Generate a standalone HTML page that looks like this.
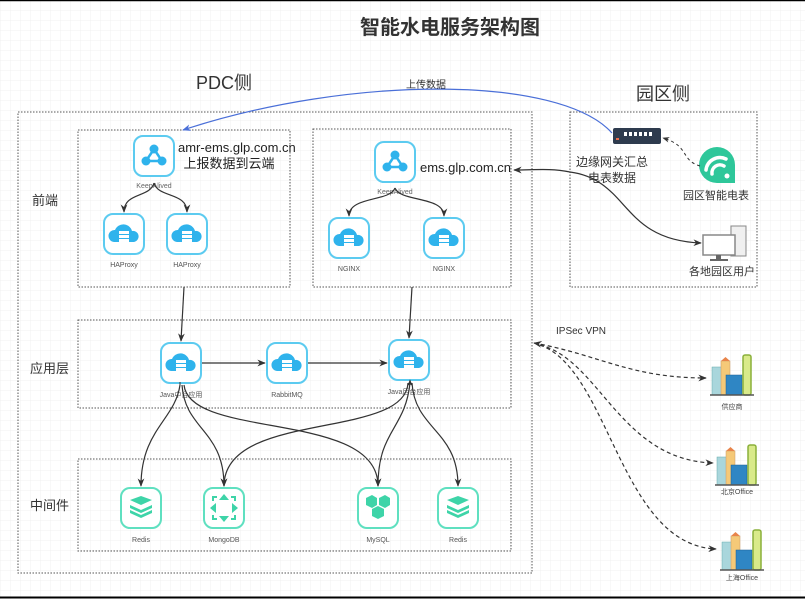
<!DOCTYPE html>
<html><head><meta charset="utf-8"><style>
html,body{margin:0;padding:0;background:#fff;}
svg{display:block;font-family:"Liberation Sans","Noto Sans CJK SC",sans-serif;}
</style></head><body>
<svg width="805" height="599" viewBox="0 0 805 599" xmlns="http://www.w3.org/2000/svg">
<defs>
<pattern id="g" width="10" height="10" patternUnits="userSpaceOnUse"><path d="M10 0H0V10" fill="none" stroke="#f0f0f0" stroke-width="1"/></pattern>
<marker id="a" viewBox="0 0 10 10" refX="9" refY="5" markerWidth="7" markerHeight="7" orient="auto-start-reverse"><path d="M0 1L10 5L0 9L3 5z" fill="#333"/></marker>
<marker id="ab" viewBox="0 0 10 10" refX="9" refY="5" markerWidth="7" markerHeight="7" orient="auto"><path d="M0 1L10 5L0 9L3 5z" fill="#4a6fd8"/></marker>
<g id="cloud">
<rect x="0" y="0" width="40" height="40" rx="9" fill="#fff" stroke="#5ccbf0" stroke-width="2"/>
<path d="M10 28a6 6 0 0 1 1-12a9 9 0 0 1 17 1a5.5 5.5 0 0 1 2 11z" fill="#2fb3ec"/>
<rect x="15" y="17" width="10" height="3" fill="#fff"/><rect x="15" y="21" width="10" height="3" fill="#fff"/><rect x="15" y="25" width="10" height="3" fill="#fff"/>
</g>
<g id="keep">
<rect x="0" y="0" width="40" height="40" rx="9" fill="#fff" stroke="#5ccbf0" stroke-width="2"/>
<path d="M20 13L12 25H28Z" fill="none" stroke="#2fb3ec" stroke-width="2.5"/>
<circle cx="20" cy="13" r="4.5" fill="#2fb3ec"/><circle cx="12" cy="25" r="4.5" fill="#2fb3ec"/><circle cx="28" cy="25" r="4.5" fill="#2fb3ec"/>
</g>
<g id="gbox"><rect x="0" y="0" width="40" height="40" rx="9" fill="#fff" stroke="#5fe0c0" stroke-width="2"/></g>
<g id="redis"><use href="#gbox"/>
<path d="M9 22l11 5 11-5v3l-11 5-11-5z M9 17l11 5 11-5v3l-11 5-11-5z M9 12l11-4 11 4-11 5z" fill="#3ed4a8"/></g>
<g id="bld">
<rect x="0" y="12" width="10" height="28" fill="#a9d6dc" stroke="#6aa" stroke-width=".5"/>
<rect x="9" y="6" width="9" height="34" fill="#f5c978" stroke="#c96" stroke-width=".5"/>
<path d="M9 6l4.5-4 4.5 4z" fill="#e8844a"/>
<rect x="14" y="20" width="16" height="20" fill="#2f86c4" stroke="#1b5f92" stroke-width=".5"/>
<rect x="31" y="0" width="8" height="40" rx="2" fill="#d9ea8a" stroke="#8ab03a" stroke-width="1.5"/>
<line x1="-2" y1="40" x2="42" y2="40" stroke="#555" stroke-width="1.5"/>
</g>
</defs>
<rect width="805" height="599" fill="url(#g)"/>
<line x1="0" y1="0.5" x2="805" y2="0.5" stroke="#000" stroke-width="1.5"/>
<line x1="0" y1="597.5" x2="805" y2="597.5" stroke="#000" stroke-width="2"/>

<text x="450" y="34" text-anchor="middle" font-size="20" font-weight="bold" fill="#333">智能水电服务架构图</text>
<text x="224" y="89" text-anchor="middle" font-size="18" fill="#333">PDC侧</text>
<text x="663" y="100" text-anchor="middle" font-size="18" fill="#333">园区侧</text>

<g fill="none" stroke="#555" stroke-width="1" stroke-dasharray="1.5 1.5">
<rect x="18" y="112" width="514" height="461"/>
<rect x="78" y="130" width="212" height="157"/>
<rect x="313" y="129" width="198" height="158"/>
<rect x="78" y="320" width="433" height="88"/>
<rect x="78" y="459" width="433" height="92"/>
<rect x="570" y="112" width="187" height="175"/>
</g>

<text x="32" y="205" font-size="13" fill="#333">前端</text>
<text x="30" y="373" font-size="13" fill="#333">应用层</text>
<text x="30" y="510" font-size="13" fill="#333">中间件</text>

<!-- front 1 -->
<use href="#keep" x="134" y="136"/>
<text x="154" y="188" text-anchor="middle" font-size="7" fill="#666">KeepAlived</text>
<text x="178" y="152" font-size="13" fill="#222">amr-ems.glp.com.cn</text>
<text x="229" y="168" text-anchor="middle" font-size="13" fill="#222">上报数据到云端</text>
<use href="#cloud" x="104" y="214"/><use href="#cloud" x="167" y="214"/>
<text x="124" y="267" text-anchor="middle" font-size="7" fill="#555">HAProxy</text>
<text x="187" y="267" text-anchor="middle" font-size="7" fill="#555">HAProxy</text>
<g fill="none" stroke="#333" stroke-width="1.2" marker-end="url(#a)">
<path d="M154 183C150 198 124 192 124 212"/><path d="M154 183C158 198 187 192 187 212"/>
</g>

<!-- front 2 -->
<use href="#keep" x="375" y="142"/>
<text x="395" y="194" text-anchor="middle" font-size="7" fill="#666">KeepAlived</text>
<text x="420" y="172" font-size="13" fill="#222">ems.glp.com.cn</text>
<use href="#cloud" x="329" y="218"/><use href="#cloud" x="424" y="218"/>
<text x="349" y="271" text-anchor="middle" font-size="7" fill="#555">NGINX</text>
<text x="444" y="271" text-anchor="middle" font-size="7" fill="#555">NGINX</text>
<g fill="none" stroke="#333" stroke-width="1.2" marker-end="url(#a)">
<path d="M395 188C390 202 349 196 349 216"/><path d="M395 188C400 202 444 196 444 216"/>
</g>

<!-- app -->
<use href="#cloud" x="161" y="343"/><use href="#cloud" x="267" y="343"/><use href="#cloud" x="389" y="340"/>
<text x="181" y="397" text-anchor="middle" font-size="7" fill="#555">Java中台应用</text>
<text x="287" y="397" text-anchor="middle" font-size="7" fill="#555">RabbitMQ</text>
<text x="409" y="394" text-anchor="middle" font-size="7" fill="#555">Java后台应用</text>
<g fill="none" stroke="#333" stroke-width="1.2" marker-end="url(#a)">
<path d="M184 287L181 341"/><path d="M412 287L409 338"/>
<path d="M202 363H265"/><path d="M308 363H387"/>
<path d="M180 385C175 420 141 430 141 486"/>
<path d="M182 385C185 430 224 430 224 486"/>
<path d="M184 385C190 440 378 410 378 486"/>
<path d="M408 383C405 440 224 410 224 486"/>
<path d="M410 383C405 430 378 430 378 486"/>
<path d="M412 383C415 430 458 430 458 486"/>
</g>
<path d="M180 385L180 382M410 383L410 380" stroke="#333" marker-end="url(#a)"/>

<!-- middleware -->
<use href="#redis" x="121" y="488"/>
<use href="#gbox" x="204" y="488"/>
<g fill="#3ed4a8"><path d="M224 494l5 6h-10z M224 522l5-6h-10z M210 508l6-5v10z M238 508l-6-5v10z"/>
<path d="M212 496h5v2h-3v3h-2z M236 496h-5v2h3v3h2z M212 520h5v-2h-3v-3h-2z M236 520h-5v-2h3v-3h2z"/></g>
<use href="#gbox" x="358" y="488"/>
<g fill="#3ed4a8"><polygon points="366,498 372,495 377,498 377,505 372,508 366,505"/><polygon points="379,498 385,495 390,498 390,505 385,508 379,505"/><polygon points="372,509 378,506 384,509 384,516 378,519 372,516"/></g>
<use href="#redis" x="438" y="488"/>
<text x="141" y="542" text-anchor="middle" font-size="7" fill="#555">Redis</text>
<text x="224" y="542" text-anchor="middle" font-size="7" fill="#555">MongoDB</text>
<text x="378" y="542" text-anchor="middle" font-size="7" fill="#555">MySQL</text>
<text x="458" y="542" text-anchor="middle" font-size="7" fill="#555">Redis</text>

<!-- campus -->
<rect x="613" y="128" width="48" height="16" rx="2" fill="#2e3b4e"/>
<g fill="#fff"><rect x="624" y="132" width="3" height="4"/><rect x="629" y="132" width="3" height="4"/><rect x="634" y="132" width="3" height="4"/><rect x="639" y="132" width="3" height="4"/><rect x="644" y="132" width="3" height="4"/><rect x="649" y="132" width="3" height="4"/></g>
<rect x="616" y="138" width="3" height="2" fill="#e86a4a"/>
<text x="612" y="166" text-anchor="middle" font-size="12" fill="#333">边缘网关汇总</text>
<text x="612" y="182" text-anchor="middle" font-size="12" fill="#333">电表数据</text>
<path d="M735 183H717a18 18 0 1 1 18-18z" fill="#2ec79a"/>
<g fill="none" stroke="#fff" stroke-width="3.5" stroke-linecap="round"><path d="M706 170a14 14 0 0 1 20-11"/><path d="M712 174a8 8 0 0 1 12-8"/></g>
<circle cx="727" cy="176" r="2.5" fill="#fff"/>
<text x="716" y="199" text-anchor="middle" font-size="11" fill="#333">园区智能电表</text>
<path d="M700 166C680 160 690 146 663 138" fill="none" stroke="#333" stroke-dasharray="3 3" marker-end="url(#a)"/>
<rect x="731" y="226" width="15" height="30" fill="#f0f0f0" stroke="#888"/>
<rect x="703" y="235" width="32" height="20" fill="#fff" stroke="#888" stroke-width="1.5"/>
<rect x="716" y="255" width="5" height="4" fill="#666"/><rect x="710" y="259" width="18" height="2" fill="#666"/>
<text x="722" y="275" text-anchor="middle" font-size="11" fill="#333">各地园区用户</text>
<path d="M570 172C630 180 620 240 701 243" fill="none" stroke="#333" stroke-width="1.2" marker-end="url(#a)"/>
<path d="M570 172C550 168 535 170 514 170" fill="none" stroke="#333" stroke-width="1.2" marker-end="url(#a)"/>

<!-- upload arrow -->
<path d="M612 133C560 75 350 75 183 130" fill="none" stroke="#4a6fd8" stroke-width="1.2" marker-end="url(#ab)"/>
<text x="426" y="88" text-anchor="middle" font-size="10" fill="#333">上传数据</text>

<!-- VPN -->
<text x="556" y="334" font-size="10" fill="#333">IPSec VPN</text>
<g fill="none" stroke="#333" stroke-width="1.2" stroke-dasharray="4 3">
<path d="M534 343C600 355 630 378 706 378" marker-end="url(#a)" marker-start="url(#a)"/>
<path d="M540 345C600 360 620 460 713 463" marker-end="url(#a)"/>
<path d="M540 345C610 370 620 545 716 549" marker-end="url(#a)"/>
</g>
<use href="#bld" x="712" y="355"/><text x="732" y="409" text-anchor="middle" font-size="7" fill="#444">供应商</text>
<use href="#bld" x="717" y="445"/><text x="737" y="494" text-anchor="middle" font-size="7" fill="#444">北京Office</text>
<use href="#bld" x="722" y="530"/><text x="742" y="580" text-anchor="middle" font-size="7" fill="#444">上海Office</text>
</svg>
</body></html>
